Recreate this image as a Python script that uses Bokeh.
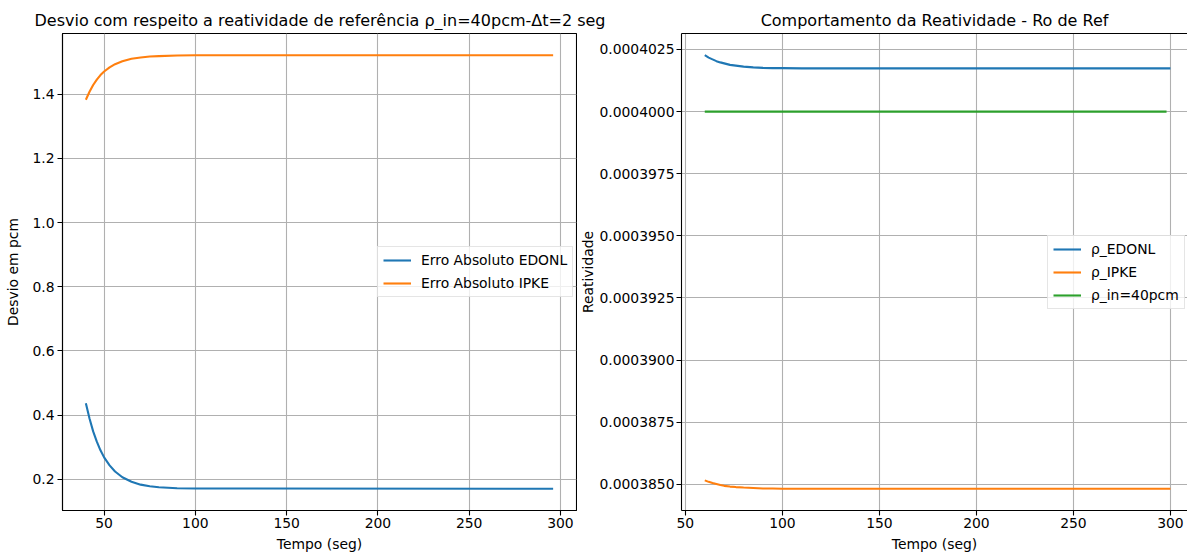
from bokeh.plotting import figure
from bokeh.models import (Range1d, FixedTicker, PrintfTickFormatter, Legend,
                          LegendItem, Label, LinearAxis)
from bokeh.layouts import column, row
from bokeh.embed import file_html
from bokeh.resources import INLINE

# ---------------- data ----------------
t_erro = [40, 42, 44, 46, 48, 50, 53, 56, 60, 65, 70, 75, 80, 90, 100, 296]
erro_edonl = [0.437, 0.389, 0.349, 0.317, 0.290, 0.268, 0.243, 0.224, 0.206,
              0.192, 0.183, 0.178, 0.175, 0.172, 0.171, 0.170]
erro_ipke = [1.383, 1.408, 1.429, 1.446, 1.460, 1.471, 1.484, 1.494, 1.503,
             1.511, 1.515, 1.518, 1.519, 1.521, 1.522, 1.522]

t_rho = [60, 62, 64, 66, 68, 70, 73, 76, 80, 85, 90, 95, 100, 110, 300]
rho_edonl = [0.00040227, 0.00040217, 0.00040210, 0.00040203, 0.00040198,
             0.00040194, 0.00040188, 0.00040185, 0.00040181, 0.00040178,
             0.00040176, 0.00040175, 0.00040175, 0.00040174, 0.00040174]
rho_ipke = [0.00038516, 0.00038510, 0.00038505, 0.00038501, 0.00038497,
            0.00038494, 0.00038491, 0.00038489, 0.00038487, 0.00038485,
            0.00038483, 0.00038483, 0.00038482, 0.00038482, 0.00038482]
t_ref = [60, 298]
rho_ref = [0.0004, 0.0004]

x_ticks = [50, 100, 150, 200, 250, 300]
erro_ticks = [0.2, 0.4, 0.6, 0.8, 1.0, 1.2, 1.4]
rho_ticks = [0.000385, 0.0003875, 0.00039, 0.0003925, 0.000395, 0.0003975,
             0.0004, 0.0004025]

title_left = "Desvio com respeito a reatividade de referência ρ_in=40pcm-Δt=2 seg"
title_right = "Comportamento da Reatividade - Ro de Ref"

# ---------------- style ----------------
C0, C1, C2 = "#1f77b4", "#ff7f0e", "#2ca02c"
FONT = "DejaVu Sans"
FS = "13.9px"
LW = 2.1


def pad(vals, frac=0.05):
    lo, hi = min(vals), max(vals)
    s = hi - lo
    return lo - frac * s, hi + frac * s


def style_axes(p, xlabel, ylabel, yticks, yfmt, ylab_standoff, ytick_standoff):
    for ax in (p.xaxis[0], p.yaxis[0]):
        ax.axis_line_color = "black"
        ax.axis_line_width = 1.1
        ax.major_tick_line_color = "black"
        ax.major_tick_line_width = 1.1
        ax.major_tick_out = 5
        ax.major_tick_in = 0
        ax.minor_tick_out = 0
        ax.minor_tick_in = 0
        ax.major_label_text_font = FONT
        ax.major_label_text_font_size = FS
        ax.major_label_text_color = "black"
        ax.axis_label_text_font = FONT
        ax.axis_label_text_font_size = FS
        ax.axis_label_text_font_style = "normal"
        ax.axis_label_text_color = "black"
    p.xaxis[0].ticker = FixedTicker(ticks=x_ticks)
    p.xaxis[0].axis_label = xlabel
    p.xaxis[0].major_label_standoff = 2
    p.xaxis[0].axis_label_standoff = 5
    p.yaxis[0].ticker = FixedTicker(ticks=yticks)
    p.yaxis[0].formatter = PrintfTickFormatter(format=yfmt)
    p.yaxis[0].axis_label = ylabel
    p.yaxis[0].major_label_standoff = ytick_standoff
    p.yaxis[0].axis_label_standoff = ylab_standoff
    p.grid.grid_line_color = "#b0b0b0"
    p.grid.grid_line_width = 1.1


def style_legend(leg):
    leg.label_text_font = FONT
    leg.label_text_font_size = FS
    leg.label_text_color = "black"
    leg.glyph_width = 28
    leg.glyph_height = 16
    leg.label_height = 16
    leg.label_standoff = 10
    leg.spacing = 7
    leg.padding = 5
    leg.margin = 0
    leg.border_line_color = "#cccccc"
    leg.border_line_width = 1
    leg.background_fill_alpha = 0.8


# ---------------- header with titles ----------------
W, H = 1187, 557
HEAD = 30
head = figure(width=W, height=HEAD, x_range=Range1d(0, W), y_range=Range1d(0, HEAD),
              toolbar_location=None, output_backend="svg", min_border=0,
              x_axis_type=None, y_axis_type=None, outline_line_color=None)
head.add_layout(Label(x=319.5, y=HEAD - 20, text=title_left, text_align="center",
                      text_baseline="alphabetic", text_font=FONT,
                      text_font_size="16px", text_color="black"))
head.add_layout(Label(x=934, y=HEAD - 20, text=title_right, text_align="center",
                      text_baseline="alphabetic", text_font=FONT,
                      text_font_size="16px", text_color="black"))

PH = H - HEAD
LEFT_W = 577
# ---------------- left plot ----------------
x0, x1 = pad(t_erro)
y0, y1 = pad(erro_edonl + erro_ipke)
pl = figure(width=LEFT_W, height=PH, x_range=Range1d(x0, x1), y_range=Range1d(y0, y1),
            toolbar_location=None, output_backend="svg",
            min_border_left=62, min_border_right=1, min_border_top=3,
            min_border_bottom=47)
pl.outline_line_color = "black"
pl.outline_line_width = 1.1
r1 = pl.line(t_erro, erro_edonl, line_color=C0, line_width=LW)
r2 = pl.line(t_erro, erro_ipke, line_color=C1, line_width=LW)
style_axes(pl, "Tempo (seg)", "Desvio em pcm", erro_ticks, "%.1f", 8, 3)
legl = Legend(items=[LegendItem(label="Erro Absoluto EDONL", renderers=[r1]),
                     LegendItem(label="Erro Absoluto IPKE", renderers=[r2])],
              location=(315, 213))
style_legend(legl)
pl.add_layout(legl)

# ---------------- right plot ----------------
rx0, rx1 = pad(t_rho)
rx1 = rx1 - 3.2  # the reference crops the right panel at the window edge
ry0, ry1 = pad(rho_edonl + rho_ipke + rho_ref)
pr = figure(width=W - LEFT_W, height=PH, x_range=Range1d(rx0, rx1), y_range=Range1d(ry0, ry1),
            toolbar_location=None, output_backend="svg",
            min_border_left=679 - LEFT_W, min_border_right=0, min_border_top=3,
            min_border_bottom=47)
pr.outline_line_color = None
s1 = pr.line(t_rho, rho_edonl, line_color=C0, line_width=LW)
s2 = pr.line(t_rho, rho_ipke, line_color=C1, line_width=LW)
s3 = pr.line(t_ref, rho_ref, line_color=C2, line_width=LW)
style_axes(pr, "Tempo (seg)", "Reatividade", rho_ticks, "%.7f", 0, 2)
top = LinearAxis(ticker=FixedTicker(ticks=[]), major_tick_out=0, major_tick_in=0,
                 minor_tick_out=0, minor_tick_in=0, major_label_text_font_size="0px",
                 major_label_standoff=0, axis_label_standoff=0,
                 axis_line_color="black", axis_line_width=1.1)
pr.add_layout(top, "above")
legr = Legend(items=[LegendItem(label="ρ_EDONL", renderers=[s1]),
                     LegendItem(label="ρ_IPKE", renderers=[s2]),
                     LegendItem(label="ρ_in=40pcm", renderers=[s3])],
              location=(366, 201))
style_legend(legr)
pr.add_layout(legr)

layout = column(head, row(pl, pr, spacing=0), spacing=0)
open("out.html", "w").write(file_html(layout, INLINE))
